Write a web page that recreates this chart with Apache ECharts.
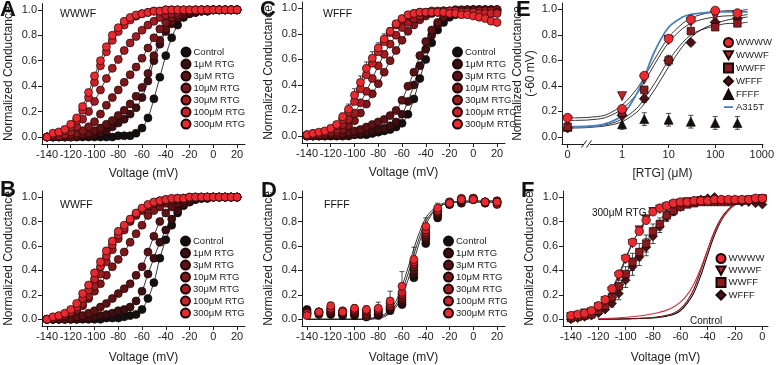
<!DOCTYPE html>
<html><head><meta charset="utf-8">
<script src="https://cdn.jsdelivr.net/npm/echarts@6/dist/echarts.min.js"></script>
<style>html,body{margin:0;padding:0;background:#fff}#c{width:777px;height:365px}</style>
</head><body><div id="c"></div>
<script>
// ---------- data ----------
const V5 = [-140,-135,-130,-125,-120,-115,-110,-105,-100,-95,-90,-85,-80,-75,-70,-65,-60,-55,-50,-45,-40,-35,-30,-25,-20,-15,-10,-5,0,5,10,15,20];
const V10 = [-140,-130,-120,-110,-100,-90,-80,-70,-60,-50,-40,-30,-20,-10,0,10,20];
const VF = [-140,-135,-130,-125,-120,-115,-110,-105,-100,-95,-90,-85,-80,-75,-70,-65,-60,-55,-50,-45,-40,-35,-30,-25,-20,-15,-10,-5,0];
const VFC = [-120,-115,-110,-105,-100,-95,-90,-85,-80,-75,-70,-65,-60,-55,-50,-45,-40,-35,-30,-25,-20,-15];
const DOSES = ['Control','1μM RTG','3μM RTG','10μM RTG','30μM RTG','100μM RTG','300μM RTG'];

// Panel A  (WWWF)
const A_ctrl = [0,0,0,0,0,0,0,0,0,0,0,0,0.01,0.01,0.01,0.03,0.07,0.15,0.30,0.47,0.64,0.78,0.88,0.94,0.97,0.98,0.99,0.99,1,1,1,1,1];
const A_1    = [0,0,0,0,0,0,0.01,0.01,0.02,0.03,0.05,0.08,0.11,0.14,0.18,0.23,0.31,0.44,0.60,0.73,0.83,0.89,0.93,0.96,0.97,0.98,0.99,0.99,1,1,1,1,1];
const A_3    = [0,0,0,0,0,0.01,0.02,0.03,0.05,0.07,0.10,0.13,0.17,0.21,0.26,0.32,0.39,0.50,0.64,0.76,0.85,0.91,0.94,0.96,0.98,0.99,0.99,1,1,1,1,1,1];
const A_10   = [0,0,0.01,0.01,0.02,0.03,0.05,0.08,0.12,0.18,0.25,0.31,0.37,0.43,0.49,0.55,0.62,0.70,0.78,0.85,0.90,0.94,0.96,0.98,0.99,0.99,1,1,1,1,1,1,1];
const A_30   = [0,0.01,0.01,0.02,0.04,0.08,0.14,0.20,0.28,0.37,0.46,0.54,0.61,0.68,0.74,0.79,0.84,0.88,0.91,0.94,0.96,0.97,0.98,0.99,0.99,1,1,1,1,1,1,1,1];
const A_100  = [0,0.02,0.03,0.05,0.08,0.13,0.21,0.31,0.43,0.56,0.67,0.76,0.83,0.88,0.92,0.95,0.97,0.98,0.99,0.99,1,1,1,1,1,1,1,1,1,1,1,1,1];
const A_300  = [0,0.03,0.04,0.06,0.10,0.15,0.24,0.35,0.48,0.60,0.71,0.80,0.86,0.91,0.94,0.96,0.97,0.98,0.99,0.99,1,1,1,1,1,1,1,1,1,1,1,1,1];

// Panel C  (WFFF)
const C_ctrl = [0,0,0,0,0,0,0,0,0.01,0.01,0.01,0.02,0.03,0.04,0.05,0.07,0.10,0.17,0.29,0.45,0.60,0.73,0.83,0.89,0.93,0.95,0.96,0.97,0.97,0.98,0.98,0.98,0.98];
const C_1    = [0,0,0,0,0,0,0,0.01,0.01,0.02,0.03,0.04,0.05,0.06,0.08,0.11,0.17,0.27,0.40,0.55,0.68,0.79,0.87,0.92,0.95,0.97,0.98,0.98,0.99,0.99,0.99,0.99,0.99];
const C_3    = [0,0,0,0,0.01,0.01,0.02,0.03,0.04,0.05,0.07,0.09,0.11,0.13,0.16,0.20,0.28,0.39,0.50,0.63,0.74,0.83,0.89,0.93,0.96,0.97,0.98,0.99,0.99,0.99,0.99,0.99,0.99];
const C_10   = [0,0,0.01,0.01,0.02,0.03,0.05,0.08,0.12,0.18,0.25,0.33,0.41,0.50,0.59,0.67,0.75,0.82,0.87,0.91,0.94,0.96,0.97,0.98,0.98,0.99,0.99,0.99,0.99,0.99,0.99,0.99,0.99];
const C_30   = [0,0.01,0.01,0.02,0.03,0.05,0.09,0.13,0.18,0.26,0.35,0.45,0.55,0.64,0.72,0.79,0.85,0.89,0.92,0.94,0.96,0.97,0.97,0.98,0.98,0.98,0.98,0.98,0.98,0.98,0.98,0.98,0.97];
const C_100  = [0.01,0.02,0.02,0.03,0.05,0.08,0.13,0.19,0.27,0.37,0.48,0.57,0.66,0.74,0.81,0.87,0.91,0.94,0.96,0.97,0.97,0.98,0.98,0.98,0.98,0.98,0.97,0.97,0.97,0.96,0.96,0.96,0.96];
const C_300  = [0.01,0.02,0.03,0.04,0.06,0.09,0.15,0.21,0.32,0.42,0.53,0.61,0.69,0.76,0.82,0.88,0.92,0.95,0.96,0.97,0.97,0.97,0.97,0.97,0.96,0.96,0.95,0.95,0.94,0.93,0.92,0.90,0.89];
const C_300err = [0,0,0,0,0,0,0.03,0.04,0.05,0.05,0.05,0.05,0.04,0.04,0.03,0.02,0.02,0,0,0,0,0,0,0,0,0,0,0,0,0,0,0,0];

// Panel B  (WWFF)
const B_ctrl = [0,0,0,0,0,0,0,0,0,0,0.01,0.01,0.01,0.02,0.03,0.04,0.08,0.17,0.30,0.50,0.65,0.77,0.87,0.93,0.96,0.98,0.99,0.99,1,1,1,1,1];
const B_1    = [0,0,0,0,0,0,0.01,0.01,0.02,0.03,0.04,0.05,0.07,0.08,0.10,0.15,0.23,0.37,0.50,0.63,0.73,0.82,0.89,0.94,0.96,0.98,0.99,0.99,1,1,1,1,1];
const B_3    = [0,0,0,0,0.01,0.02,0.03,0.05,0.07,0.10,0.13,0.17,0.21,0.25,0.29,0.36,0.43,0.55,0.68,0.80,0.87,0.92,0.95,0.97,0.98,0.99,0.99,1,1,1,1,1,1];
const B_10   = [0,0,0.01,0.02,0.04,0.07,0.11,0.17,0.23,0.29,0.36,0.43,0.49,0.55,0.63,0.70,0.77,0.85,0.89,0.92,0.95,0.97,0.98,0.99,0.99,1,1,1,1,1,1,1,1];
const B_30   = [0,0.01,0.02,0.03,0.05,0.08,0.13,0.19,0.27,0.37,0.47,0.57,0.66,0.73,0.80,0.85,0.89,0.92,0.95,0.96,0.97,0.98,0.99,0.99,0.99,1,1,1,1,1,1,1,1];
const B_100  = [0,0.01,0.02,0.04,0.06,0.10,0.17,0.24,0.33,0.43,0.52,0.61,0.69,0.75,0.81,0.86,0.90,0.93,0.95,0.97,0.98,0.98,0.99,0.99,1,1,1,1,1,1,1,1,1];
const B_300  = [0,0.02,0.03,0.05,0.08,0.13,0.21,0.28,0.38,0.47,0.56,0.64,0.72,0.77,0.82,0.87,0.91,0.94,0.96,0.97,0.98,0.99,0.99,0.99,1,1,1,1,1,1,1,1,1];

// Panel D  (FFFF) – points every 10 mV
const D_ctrl = [0.08,0.05,0.04,0.03,0.03,0.02,0.03,0.07,0.12,0.34,0.62,0.83,0.94,0.96,0.98,0.96,0.96];
const D_1    = [0.07,0.04,0.05,0.04,0.04,0.03,0.04,0.08,0.14,0.37,0.65,0.85,0.94,0.95,0.98,0.95,0.95];
const D_3    = [0.06,0.06,0.06,0.05,0.05,0.02,0.05,0.09,0.16,0.40,0.67,0.86,0.95,0.97,0.99,0.96,0.97];
const D_10   = [0.05,0.05,0.07,0.06,0.06,0.04,0.06,0.10,0.18,0.43,0.69,0.87,0.95,0.98,0.99,0.96,0.96];
const D_30   = [0.04,0.06,0.08,0.06,0.07,0.06,0.07,0.11,0.20,0.45,0.71,0.88,0.96,0.98,0.98,0.96,0.94];
const D_100  = [0.05,0.06,0.09,0.07,0.08,0.07,0.08,0.13,0.22,0.47,0.73,0.89,0.96,0.99,0.99,0.96,0.96];
const D_300  = [0.03,0.06,0.11,0.06,0.09,0.08,0.09,0.15,0.27,0.49,0.76,0.91,0.95,0.98,0.98,0.96,0.96];
const D_300err = [0.02,0.02,0.03,0.02,0.03,0.03,0.05,0.08,0.12,0.10,0.07,0.04,0.03,0.02,0.02,0.02,0.02];
const D_fit1 = [0,0,0,0,0,0,0,0,0,0,0,0.01,0.02,0.04,0.08,0.15,0.27,0.42,0.58,0.72,0.83,0.89,0.93,0.95,0.96,0.96,0.97,0.97,0.97,0.97,0.97,0.97,0.97];
const D_fit2 = [0,0,0,0,0,0,0,0,0,0,0,0.01,0.01,0.03,0.06,0.12,0.23,0.37,0.53,0.68,0.80,0.87,0.92,0.94,0.95,0.96,0.96,0.96,0.96,0.96,0.96,0.96,0.96];
const D_fit3 = [0,0,0,0,0,0,0,0,0,0,0,0,0.01,0.02,0.05,0.10,0.19,0.32,0.48,0.64,0.77,0.86,0.91,0.94,0.95,0.96,0.96,0.96,0.96,0.96,0.96,0.96,0.96];

// Panel E  (dose-response at -60 mV)
const E_CONC = [0,1,3,10,30,100,300];
const E_WWWW = [0.15,0.22,0.48,0.77,0.92,0.99,0.97];
const E_WWWF = [0.13,0.32,0.45,0.76,0.90,0.95,0.95];
const E_WWFF = [0.08,0.19,0.37,0.60,0.83,0.86,0.89];
const E_WFFF = [0.07,0.17,0.30,0.60,0.74,0.90,0.93];
const E_FFFF = [0.08,0.10,0.14,0.135,0.12,0.11,0.11];
const E_FFFFerr = [0.03,0.04,0.05,0.05,0.05,0.05,0.05];
const E_WFFFerr = [0,0.02,0.03,0.04,0.02,0.03,0.02];
const E_FITC = [0,0.1,0.3,0.5,1,2,3,5,10,20,30,50,100,200,300,500];
const E_fitWWWW = [0.15,0.15,0.16,0.18,0.25,0.37,0.47,0.61,0.78,0.89,0.93,0.96,0.98,0.99,0.99,1.0];
const E_fitWWWF = [0.13,0.13,0.14,0.16,0.22,0.33,0.43,0.57,0.74,0.85,0.89,0.92,0.94,0.95,0.95,0.96];
const E_fitWWFF = [0.08,0.08,0.09,0.10,0.14,0.22,0.30,0.42,0.60,0.74,0.80,0.84,0.87,0.89,0.89,0.90];
const E_fitWFFF = [0.07,0.07,0.08,0.09,0.12,0.19,0.26,0.37,0.55,0.71,0.78,0.84,0.89,0.92,0.93,0.94];
const E_fitA315T = [0.08,0.08,0.09,0.11,0.17,0.33,0.47,0.67,0.86,0.94,0.96,0.97,0.98,0.98,0.98,0.98];
const E_TICKS = [0,1,10,100,1000];
const E_TICK_LABELS = ['0','1','10','100','1000'];
const ZERO_AT = 0.0676; // where the axis break places [RTG] = 0

// Panel F  (300 μM RTG, all constructs)
const F_WWWW = [0.03,0.04,0.05,0.07,0.11,0.16,0.25,0.37,0.50,0.63,0.72,0.81,0.88,0.91,0.93,0.95,0.96,0.96,0.97,0.97,0.97,0.98,0.98,0.98,0.98,0.98,0.98,0.99,0.99];
const F_WWWF = [0.02,0.03,0.05,0.06,0.10,0.15,0.23,0.35,0.49,0.62,0.73,0.82,0.88,0.90,0.92,0.94,0.95,0.96,0.96,0.97,0.97,0.97,0.97,0.97,0.97,0.97,0.97,0.98,0.98];
const F_WWFF = [0.01,0.02,0.03,0.04,0.07,0.11,0.18,0.27,0.37,0.47,0.55,0.62,0.72,0.78,0.85,0.89,0.92,0.94,0.95,0.96,0.96,0.96,0.96,0.96,0.97,0.97,0.98,0.98,0.99];
const F_WFFF = [0,0.01,0.02,0.03,0.05,0.08,0.13,0.21,0.32,0.43,0.51,0.59,0.68,0.76,0.84,0.88,0.92,0.95,0.97,0.98,0.99,1.0,0.98,0.97,0.97,0.96,0.96,0.95,0.94];
const F_err  = [0,0,0,0,0,0,0.03,0.05,0.06,0.07,0.07,0.07,0.06,0.05,0.04,0.03,0.02,0,0,0,0,0,0,0,0,0,0,0,0];
const F_ctl1 = [0,0,0.001,0.001,0.003,0.004,0.006,0.008,0.01,0.016,0.025,0.04,0.07,0.13,0.22,0.36,0.53,0.69,0.81,0.89,0.94,0.97];
const F_ctl2 = [0.001,0.001,0.002,0.003,0.004,0.006,0.008,0.011,0.015,0.022,0.032,0.05,0.085,0.15,0.25,0.40,0.57,0.72,0.83,0.90,0.95,0.97];
const F_ctl3 = [0.005,0.007,0.009,0.012,0.016,0.021,0.027,0.035,0.045,0.058,0.075,0.10,0.14,0.20,0.29,0.42,0.57,0.71,0.82,0.89,0.94,0.97];

const X_TICKS = [-140,-120,-100,-80,-60,-40,-20,0,20];
const XF_TICKS = [-140,-120,-100,-80,-60,-40,-20,0];
const Y_TICKS = [0,0.2,0.4,0.6,0.8,1.0];

// ---------- styling ----------
const FONT = 'Liberation Sans';
const INK = '#1e1e1e';
const DOSE_COL = ['#111111','#3b0f10','#5c1214','#7e161a','#a21c22','#c9222a','#ea2a30'];
const CON_COL = {WWWW:'#ea2a30', WWWF:'#c4232a', WWFF:'#8a1a1e', WFFF:'#4a1214', FFFF:'#111111', A315T:'#4a80c0'};
const TRI_DOWN = 'path://M0,0L10,0L5,9Z';

const grids = [
  {left:42, top:3.5, width:203, height:140.5},   // A
  {left:302, top:2, width:203, height:141},      // C
  {left:562, top:3, width:205, height:141},      // E
  {left:42, top:191, width:203, height:142},     // B
  {left:302, top:191, width:203, height:142},    // D
  {left:563, top:191, width:205, height:142}     // F
];

function baseAxis(extra) {
  return Object.assign({
    axisLine:{show:true, onZero:false, lineStyle:{color:INK, width:1}},
    axisTick:{show:true, inside:false, length:4, lineStyle:{color:INK, width:1}},
    axisLabel:{fontSize:11, color:INK, fontFamily:FONT},
    splitLine:{show:false},
    nameLocation:'middle',
    nameTextStyle:{fontSize:12, color:INK, fontFamily:FONT}
  }, extra);
}
function vAxis(gi, ticks, min, max, gap) {
  const a = baseAxis({type:'value', gridIndex:gi, min, max, name:'Voltage (mV)', nameGap:gap});
  a.axisTick.customValues = ticks;
  a.axisLabel = Object.assign({}, a.axisLabel, {customValues:ticks, margin:5, formatter:v=>String(v)});
  return a;
}
function yAxis(gi, name, gap, lh) {
  const a = baseAxis({type:'value', gridIndex:gi, min:-0.055, max:1.05, name, nameGap:gap});
  a.axisTick.customValues = Y_TICKS;
  a.axisLabel = Object.assign({}, a.axisLabel, {customValues:Y_TICKS, margin:5, formatter:v=>v.toFixed(1)});
  if (lh) a.nameTextStyle = Object.assign({}, a.nameTextStyle, {lineHeight:lh});
  return a;
}
const eTickPos = E_TICKS.map(c => c === 0 ? ZERO_AT : c);
const eAxis = baseAxis({type:'log', logBase:10, gridIndex:2, min:0.0513, max:1059, name:'[RTG] (μM)', nameGap:24});
eAxis.axisTick.customValues = eTickPos;
eAxis.axisLabel = Object.assign({}, eAxis.axisLabel, {customValues:eTickPos, margin:5, formatter:v=>{
  const i = eTickPos.findIndex(t => Math.abs(Math.log10(t) - Math.log10(v)) < 0.02);
  return i >= 0 ? E_TICK_LABELS[i] : '';
}});
eAxis.minorTick = {show:false};

const xAxes = [vAxis(0,X_TICKS,-144.2,26.7,24), vAxis(1,X_TICKS,-144.2,26.7,24), eAxis,
               vAxis(3,X_TICKS,-144.2,26.7,26), vAxis(4,X_TICKS,-144.2,26.7,26), vAxis(5,XF_TICKS,-145.8,4.1,26)];
const yAxes = [yAxis(0,'Normalized Conductance',27), yAxis(1,'Normalized Conductance',27),
               yAxis(2,'Normalized Conductance\n(-60 mV)',25,13),
               yAxis(3,'Normalized Conductance',27), yAxis(4,'Normalized Conductance',27),
               yAxis(5,'Normalized Conductance',27)];

const series = [];
function pairs(xs, ys) { return xs.map((x,i) => [x, ys[i]]); }
function fitLine(gi, xs, ys, color, width) {
  series.push({type:'line', xAxisIndex:gi, yAxisIndex:gi, data:pairs(xs,ys), showSymbol:false, symbol:'none',
    smooth:0.35, lineStyle:{color:color||INK, width:width||0.9}, z:1, silent:true, animation:false});
}
function points(gi, name, xs, ys, color, symbol, size) {
  series.push({type:'scatter', name, xAxisIndex:gi, yAxisIndex:gi, data:pairs(xs,ys), symbol:symbol||'circle',
    symbolSize:size||8, itemStyle:{color, borderColor:'#1a0606', borderWidth:0.7, opacity:1}, z:3, animation:false});
}
function errBars(gi, xs, ys, es) {
  const d = [];
  xs.forEach((x,i) => { if (es[i]) d.push([x, ys[i], es[i]]); });
  series.push({type:'custom', xAxisIndex:gi, yAxisIndex:gi, z:2, silent:true, animation:false,
    encode:{x:0, y:1}, data:d,
    renderItem:(params, api) => {
      const x = api.value(0), y = api.value(1), e = api.value(2);
      const lo = api.coord([x, y - e]), hi = api.coord([x, y + e]);
      const w = 2.5, st = {stroke:INK, lineWidth:0.8};
      return {type:'group', children:[
        {type:'line', shape:{x1:lo[0], y1:lo[1], x2:hi[0], y2:hi[1]}, style:st},
        {type:'line', shape:{x1:hi[0]-w, y1:hi[1], x2:hi[0]+w, y2:hi[1]}, style:st},
        {type:'line', shape:{x1:lo[0]-w, y1:lo[1], x2:lo[0]+w, y2:lo[1]}, style:st}
      ]};
    }});
}

function dosePanel(gi, arrs) {
  arrs.forEach(a => fitLine(gi, V5, a));
  arrs.forEach((a,i) => points(gi, DOSES[i], V5, a, DOSE_COL[i]));
}
dosePanel(0, [A_ctrl,A_1,A_3,A_10,A_30,A_100,A_300]);
errBars(1, V5, C_300, C_300err);
dosePanel(1, [C_ctrl,C_1,C_3,C_10,C_30,C_100,C_300]);
dosePanel(3, [B_ctrl,B_1,B_3,B_10,B_30,B_100,B_300]);
// D
[D_fit1,D_fit2,D_fit3].forEach(f => fitLine(4, V5, f));
errBars(4, V10, D_300, D_300err);
[D_ctrl,D_1,D_3,D_10,D_30,D_100,D_300].forEach((a,i) => points(4, DOSES[i], V10, a, DOSE_COL[i]));
// E
const eX = c => c === 0 ? ZERO_AT : c;
const eFitX = E_FITC.map(eX), eX7 = E_CONC.map(eX);
[E_fitWWWW,E_fitWWWF,E_fitWWFF,E_fitWFFF].forEach(f => fitLine(2, eFitX, f, INK, 0.9));
series.push({type:'line', name:'A315T', xAxisIndex:2, yAxisIndex:2, data:pairs(eFitX,E_fitA315T), symbol:'none', showSymbol:false,
  smooth:0.35, lineStyle:{color:CON_COL.A315T, width:1.8}, itemStyle:{color:CON_COL.A315T}, z:2, animation:false});
errBars(2, eX7, E_FFFF, E_FFFFerr);
errBars(2, eX7, E_WFFF, E_WFFFerr);
points(2, 'FFFF', eX7, E_FFFF, CON_COL.FFFF, 'triangle', 9);
points(2, 'WFFF', eX7, E_WFFF, CON_COL.WFFF, 'diamond', 10);
points(2, 'WWFF', eX7, E_WWFF, CON_COL.WWFF, 'rect', 7.5);
points(2, 'WWWF', eX7, E_WWWF, CON_COL.WWWF, TRI_DOWN, 9);
points(2, 'WWWW', eX7, E_WWWW, CON_COL.WWWW, 'circle', 9);
// F
fitLine(5, VFC, F_ctl1, '#1a0a0a', 1.1);
fitLine(5, VFC, F_ctl2, '#6a1216', 1.1);
fitLine(5, VFC, F_ctl3, '#c8323a', 1.1);
[F_WWWW,F_WWWF,F_WWFF,F_WFFF].forEach(f => fitLine(5, VF, f, INK, 0.9));
errBars(5, VF, F_WWFF, F_err);
errBars(5, VF, F_WFFF, F_err);
points(5, 'WFFF', VF, F_WFFF, CON_COL.WFFF, 'diamond', 9);
points(5, 'WWFF', VF, F_WWFF, CON_COL.WWFF, 'rect', 7.5);
points(5, 'WWWF', VF, F_WWWF, CON_COL.WWWF, TRI_DOWN, 8.5);
points(5, 'WWWW', VF, F_WWWW, CON_COL.WWWW, 'circle', 8.5);

function legend(left, top, names, gap, icons) {
  return {left, top, padding:0, orient:'vertical', itemWidth:9, itemHeight:9, itemGap:gap, selectedMode:false,
    textStyle:{fontSize:9.5, color:INK, fontFamily:FONT, padding:[0,0,0,-2]},
    data: names.map((n,i) => icons ? {name:n, icon:icons[i]} : {name:n, icon:'circle'})};
}
const legends = [
  legend(180.5, 46.6, DOSES, 1),
  legend(452, 46.6, DOSES, 1),
  legend(180, 235.6, DOSES, 1),
  legend(443, 235.6, DOSES, 1),
  legend(723, 37, ['WWWW','WWWF','WWFF','WFFF','FFFF','A315T'], 2.2, ['circle', TRI_DOWN, 'rect', 'diamond', 'triangle', 'path://M0,4L10,4L10,6L0,6Z']),
  legend(715.5, 253, ['WWWW','WWWF','WWFF','WFFF'], 1.5, ['circle', TRI_DOWN, 'rect', 'diamond'])
];

function txt(left, top, text, size, bold) {
  return {type:'text', left, top, style:{text, fontSize:size, fontWeight:bold?'bold':'normal', fill:'#111', fontFamily:FONT}, z:10};
}
const graphic = [
  txt(0, -1, 'A', 22, true), txt(260, -1, 'C', 22, true), txt(516, -1, 'E', 22, true),
  txt(0, 179, 'B', 22, true), txt(261, 180, 'D', 22, true), txt(521, 180, 'F', 22, true),
  txt(60, 9, 'WWWF', 10.5), txt(323, 9, 'WFFF', 10.5), txt(60, 200, 'WWFF', 10.5), txt(324, 200, 'FFFF', 10.5),
  txt(592, 208, '300μM RTG', 10), txt(690, 316, 'Control', 10),
  {type:'rect', shape:{x:584, y:141, width:6, height:6}, style:{fill:'#fff'}, z:10},
  {type:'line', shape:{x1:581.5, y1:147.5, x2:586.5, y2:140.5}, style:{stroke:INK, lineWidth:1}, z:11},
  {type:'line', shape:{x1:586.5, y1:147.5, x2:591.5, y2:140.5}, style:{stroke:INK, lineWidth:1}, z:11}
];

const chart = echarts.init(document.getElementById('c'), null, {renderer:'canvas'});
chart.setOption({
  animation:false,
  backgroundColor:'#fff',
  textStyle:{fontFamily:FONT},
  grid:grids, xAxis:xAxes, yAxis:yAxes, series, legend:legends, graphic
});
</script>
</body></html>
